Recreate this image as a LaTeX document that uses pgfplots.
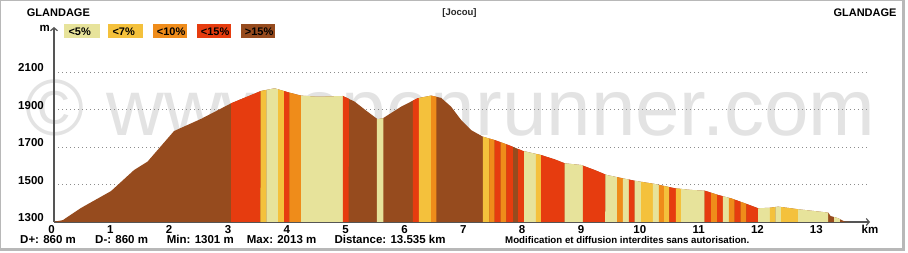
\documentclass[border=0pt]{standalone}
\usepackage{pgfplots}
\pgfplotsset{compat=1.18}
\usepgfplotslibrary{fillbetween}
\usetikzlibrary{arrows.meta}
\usepackage{fontspec}
\setmainfont{Liberation Sans}
\definecolor{cA}{HTML}{E7E39B}
\definecolor{cB}{HTML}{F4C13C}
\definecolor{cC}{HTML}{EF8C1A}
\definecolor{cD}{HTML}{E63C0F}
\definecolor{cE}{HTML}{964B1E}
\definecolor{axc}{HTML}{555555}
\newcommand\st[3]{\addplot[fill=#3, draw=none] fill between[of=prof and base, soft clip={domain=#1:#2}];}
\begin{document}
\begin{tikzpicture}[x=1pt,y=1pt]
\path (0,0) rectangle (908,253);
\fill[black!28] (0,2) rectangle (1.2,253);
\fill[black!28] (0,251.8) rectangle (904.5,253);
\fill[black!28] (901.5,2) rectangle (904.5,253);
\fill[black!28] (0,2) rectangle (904.5,5);
\begin{axis}[
 set layers,
 scale only axis, width=816pt, height=195pt,
 at={(54pt,31pt)}, anchor=south west,
 xmin=0, xmax=13.87, ymin=1300, ymax=2340,
 axis lines=left,
 axis line style={draw=axc, line width=1.2pt},
 x axis line style={-{Straight Barb[length=3pt,width=7pt]}},
 y axis line style={-{Straight Barb[length=3pt,width=7pt]}},
 xtick={0,1,...,13}, ytick={1300,1500,1700,1900,2100},
 major tick length=0pt,
 ymajorgrids, grid style={black!45, dash pattern=on 1pt off 3pt, line width=0.8pt},
 tick label style={font=\fontsize{11.5}{13}\selectfont\bfseries},
 /pgf/number format/assume math mode=true,
 /pgf/number format/1000 sep={},
 xticklabel style={anchor=north, inner sep=0pt, yshift=-3pt, xshift=-2.5pt},
 yticklabel style={anchor=base east, inner sep=0pt, xshift=-10pt},
 clip=false,
]
\begin{pgfonlayer}{axis background}
\node[anchor=base west, inner sep=0pt, text=black!11, font=\fontsize{80}{80}\selectfont] at (axis cs:-0.493,1758.7) {© www.openrunner.com};
\end{pgfonlayer}
\addplot[name path=prof, draw=none] coordinates {
(0,1301) (0.15,1310) (0.46,1375) (0.97,1465) (1.36,1577) (1.59,1622)
(2.04,1785) (2.50,1850) (3.01,1933) (3.52,1999) (3.75,2013) (4.00,1990)
(4.20,1974) (4.48,1968) (4.91,1972) (5.11,1942) (5.33,1888) (5.50,1848)
(5.59,1853) (5.90,1915) (6.18,1960) (6.41,1974) (6.58,1962) (6.75,1915)
(6.92,1844) (7.09,1790) (7.29,1755) (7.49,1737) (7.72,1711) (7.97,1679)
(8.28,1657) (8.51,1634) (8.68,1613) (8.96,1604) (9.19,1577) (9.39,1551)
(9.59,1538) (9.87,1520) (10.21,1503) (10.55,1480) (10.83,1471) (11.06,1467)
(11.29,1444) (11.51,1426) (11.74,1400) (11.97,1373) (12.17,1376) (12.31,1382)
(12.65,1368) (13.16,1350) (13.20,1332) (13.33,1320) (13.44,1302) (13.535,1301)
};
\addplot[name path=base, draw=none] coordinates {(0,1300) (13.535,1300)};
\addplot[fill=cE, draw=none] fill between[of=prof and base];
\st{3.01}{3.51}{cD}
\st{3.51}{3.61}{cB}
\st{3.61}{3.81}{cA}
\st{3.81}{3.91}{cB}
\st{3.91}{4.00}{cD}
\st{4.00}{4.20}{cC}
\st{4.20}{4.91}{cA}
\st{4.91}{5.01}{cD}
\st{5.49}{5.60}{cA}
\st{6.10}{6.20}{cD}
\st{6.20}{6.41}{cB}
\st{6.41}{6.50}{cC}
\st{7.29}{7.40}{cB}
\st{7.40}{7.49}{cC}
\st{7.49}{7.59}{cD}
\st{7.59}{7.69}{cC}
\st{7.69}{7.80}{cD}
\st{7.89}{7.99}{cD}
\st{7.99}{8.19}{cA}
\st{8.19}{8.28}{cB}
\st{8.28}{8.68}{cD}
\st{8.68}{8.99}{cA}
\st{8.99}{9.37}{cD}
\st{9.37}{9.57}{cA}
\st{9.57}{9.67}{cC}
\st{9.67}{9.77}{cA}
\st{9.77}{9.87}{cD}
\st{9.87}{9.98}{cA}
\st{9.98}{10.18}{cB}
\st{10.18}{10.28}{cA}
\st{10.28}{10.37}{cC}
\st{10.37}{10.46}{cB}
\st{10.46}{10.57}{cD}
\st{10.57}{10.66}{cB}
\st{10.66}{11.06}{cA}
\st{11.06}{11.17}{cD}
\st{11.17}{11.27}{cC}
\st{11.27}{11.37}{cD}
\st{11.37}{11.47}{cA}
\st{11.47}{11.57}{cC}
\st{11.57}{11.67}{cD}
\st{11.67}{11.77}{cC}
\st{11.77}{11.97}{cD}
\st{11.97}{12.17}{cA}
\st{12.17}{12.26}{cB}
\st{12.26}{12.36}{cA}
\st{12.36}{12.65}{cB}
\st{12.65}{13.16}{cA}
\st{13.26}{13.36}{cA}
\node[anchor=north, inner sep=0pt, yshift=-3pt, font=\fontsize{11.5}{13}\selectfont\bfseries] at (rel axis cs:1,0) {km};
\end{axis}
\node[anchor=base east, inner sep=0pt, font=\fontsize{11.5}{13}\selectfont\bfseries] at (50,221.3) {m};
\node[anchor=base west, inner sep=0pt, font=\fontsize{11}{13}\selectfont\bfseries] at (26.7,236.3) {GLANDAGE};
\node[anchor=base east, inner sep=0pt, font=\fontsize{11}{13}\selectfont\bfseries] at (896.7,236.3) {GLANDAGE};
\node[anchor=base, inner sep=0pt, font=\fontsize{9.5}{11}\selectfont\bfseries, text=black!85] at (459.5,237) {[Jocou]};
\fill[cA] (64.3,214.7) rectangle (100,229);
\fill[cB] (108.3,214.7) rectangle (143.3,229);
\fill[cC] (152.7,214.7) rectangle (186.7,229);
\fill[cD] (196.7,214.7) rectangle (231,229);
\fill[cE] (240.7,214.7) rectangle (275,229);
\begin{scope}[every node/.style={anchor=base west, inner sep=0pt, font=\fontsize{11}{13}\selectfont\bfseries}]
\node at (68.3,217.5) {<5\%};
\node at (112.3,217.5) {<7\%};
\node at (156.7,217.5) {<10\%};
\node at (200.7,217.5) {<15\%};
\node at (244.7,217.5) {>15\%};
\end{scope}
\begin{scope}[every node/.style={anchor=base west, inner sep=0pt, font=\fontsize{11.5}{13}\selectfont\bfseries}]
\node at (20,9) {D+: 860 m};
\node at (95,9) {D-: 860 m};
\node at (166.7,9) {Min: 1301 m};
\node at (246.7,9) {Max: 2013 m};
\node at (334.3,9) {Distance: 13.535 km};
\end{scope}
\node[anchor=base west, inner sep=0pt, font=\fontsize{9.7}{11}\selectfont\bfseries] at (505,9) {Modification et diffusion interdites sans autorisation.};
\end{tikzpicture}
\end{document}
